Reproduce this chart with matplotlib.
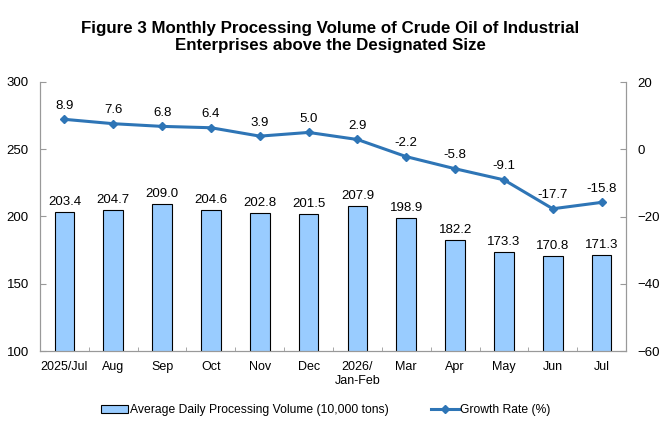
import matplotlib
matplotlib.use("Agg")
import matplotlib.pyplot as plt
import numpy as np

plt.rcParams['font.family'] = ['Liberation Sans', 'DejaVu Sans']

categories = ["2025/Jul", "Aug", "Sep", "Oct", "Nov", "Dec", "2026/\nJan-Feb", "Mar", "Apr", "May", "Jun", "Jul"]
volume = [203.4, 204.7, 209.0, 204.6, 202.8, 201.5, 207.9, 198.9, 182.2, 173.3, 170.8, 171.3]
growth = [8.9, 7.6, 6.8, 6.4, 3.9, 5.0, 2.9, -2.2, -5.8, -9.1, -17.7, -15.8]

fig = plt.figure(figsize=(6.6, 4.4), dpi=100)
ax = fig.add_axes([40/660, 1-351/440, 586/660, 269/440])
x = np.arange(len(categories))
bars = ax.bar(x, volume, width=0.40, color='#99CCFF', edgecolor='black', linewidth=0.8,
              label='Average Daily Processing Volume (10,000 tons)', zorder=2)
ax.set_ylim(100, 300)
ax.set_yticks([100, 150, 200, 250, 300])
ax.set_xlim(-0.5, len(categories)-0.5)
ax.set_xticks(x)
ax.set_xticklabels(categories, fontsize=9)
ax.set_xticks(np.arange(-0.5, len(categories), 1), minor=True)
ax.tick_params(axis='x', which='major', length=0, pad=7)
ax.tick_params(axis='x', which='minor', length=3, direction='in', color='#999999')
ax.tick_params(axis='y', labelsize=9.5, length=4, direction='in', color='#999999', pad=8)
ax.spines['top'].set_visible(False)
for s in ['left', 'right', 'bottom']:
    ax.spines[s].set_color('#999999')
for xi, v in zip(x, volume):
    ax.text(xi, v + 3, f"{v:.1f}", ha='center', va='bottom', fontsize=9.5)

ax2 = ax.twinx()
ax2.set_ylim(-60, 20)
ax2.set_yticks([-60, -40, -20, 0, 20])
line, = ax2.plot(x, growth, color='#2E75B6', linewidth=2.2, marker='D', markersize=4,
                 label='Growth Rate (%)', zorder=3)
ax2.tick_params(axis='y', labelsize=9.5, length=4, direction='in', color='#999999', pad=8)
ax2.spines['top'].set_visible(False)
for s in ['left', 'right', 'bottom']:
    ax2.spines[s].set_color('#999999')
for xi, g in zip(x, growth):
    ax2.text(xi, g + 2.2, f"{g:.1f}", ha='center', va='bottom', fontsize=9.5)

fig.text(0.5, 0.953, "Figure 3 Monthly Processing Volume of Crude Oil of Industrial\nEnterprises above the Designated Size",
         ha='center', va='top', fontsize=12.2, fontweight='bold', linespacing=1.22)

fig.legend([bars, line], [bars.get_label(), line.get_label()], loc='center',
           bbox_to_anchor=(0.493, 1-410/440), ncol=2, frameon=False, fontsize=8.7,
           columnspacing=3.5, handlelength=2.3, handletextpad=0.1)

fig.savefig("out.png", dpi=100)
